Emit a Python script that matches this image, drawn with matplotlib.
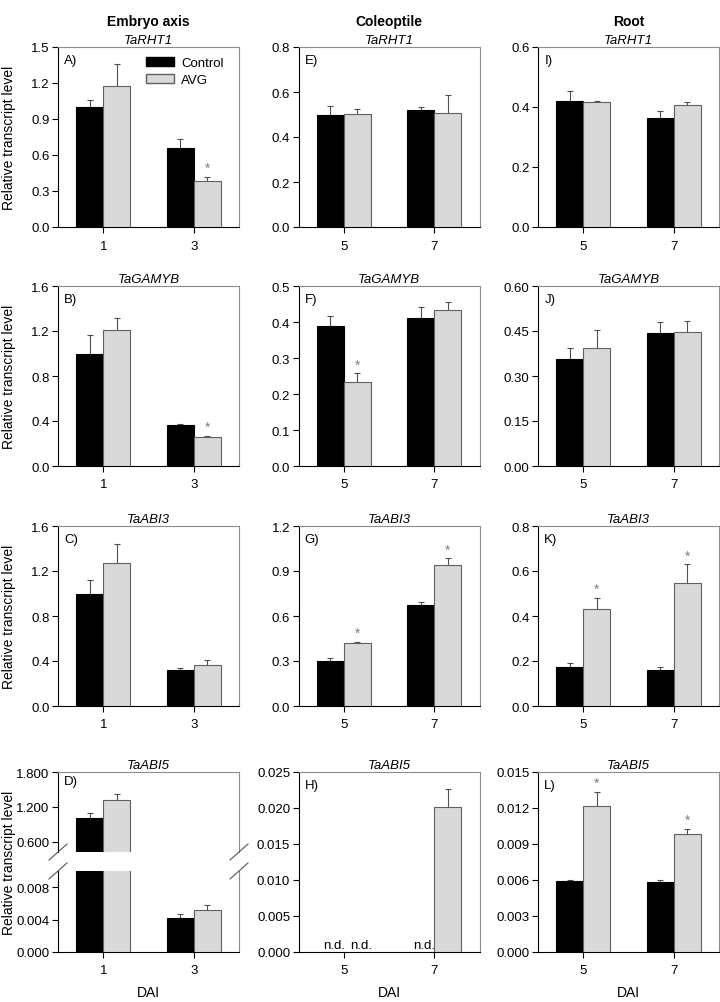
import numpy as np
import matplotlib
matplotlib.use('Agg')
import matplotlib.pyplot as plt
from matplotlib.patches import Patch
from matplotlib.lines import Line2D
from matplotlib.ticker import FormatStrFormatter

plt.rcParams['font.family'] = ['Liberation Sans', 'DejaVu Sans']
plt.rcParams['font.size'] = 9.5

# ---------------- DATA ----------------
columns = ['Embryo axis', 'Coleoptile', 'Root']
genes = ['TaRHT1', 'TaGAMYB', 'TaABI3', 'TaABI5']
letters = [['A)', 'B)', 'C)', 'D)'], ['E)', 'F)', 'G)', 'H)'], ['I)', 'J)', 'K)', 'L)']]
embryo_days = ['1', '3']
seedling_days = ['5', '7']
nan = np.nan

# embryo axis
embryo_ctrl = [[1.00, 0.656], [1.00, 0.364], [1.00, 0.317], [1.00, 0.0042]]
embryo_ctrl_err = [[0.060, 0.075], [0.164, 0.009], [0.124, 0.021], [0.095, 0.00045]]
embryo_avg = [[1.173, 0.385], [1.212, 0.258], [1.271, 0.361], [1.310, 0.00514]]
embryo_avg_err = [[0.183, 0.030], [0.106, 0.012], [0.169, 0.048], [0.109, 0.00062]]
embryo_sig = [[False, True], [False, True], [False, False], [False, False]]

# coleoptile (n.d. = not detected)
coleo_ctrl = [[0.498, 0.520], [0.389, 0.411], [0.299, 0.676], [nan, nan]]
coleo_ctrl_err = [[0.040, 0.012], [0.027, 0.030], [0.022, 0.018], [nan, nan]]
coleo_avg = [[0.502, 0.507], [0.234, 0.432], [0.417, 0.943], [nan, 0.0201]]
coleo_avg_err = [[0.024, 0.078], [0.023, 0.024], [0.011, 0.041], [nan, 0.0025]]
coleo_sig = [[False, False], [True, False], [True, True], [False, False]]

# root
root_ctrl = [[0.420, 0.362], [0.358, 0.442], [0.174, 0.158], [0.00588, 0.00583]]
root_ctrl_err = [[0.033, 0.024], [0.036, 0.039], [0.015, 0.017], [0.00012, 0.00019]]
root_avg = [[0.416, 0.406], [0.393, 0.448], [0.431, 0.546], [0.01216, 0.00981]]
root_avg_err = [[0.003, 0.010], [0.060, 0.035], [0.048, 0.083], [0.00117, 0.00045]]
root_sig = [[False, False], [False, False], [True, True], [True, True]]

# axis ranges per panel (top, step, format)
embryo_y = [(1.5, 0.3, '%.1f'), (1.6, 0.4, '%.1f'), (1.6, 0.4, '%.1f'), None]
coleo_y = [(0.8, 0.2, '%.1f'), (0.5, 0.1, '%.1f'), (1.2, 0.3, '%.1f'), (0.025, 0.005, '%.3f')]
root_y = [(0.6, 0.2, '%.1f'), (0.6, 0.15, '%.2f'), (0.8, 0.2, '%.1f'), (0.015, 0.003, '%.3f')]
# broken axis for embryo TaABI5
abi5_upper = (0.42, 1.8, [0.6, 1.2, 1.8])
abi5_lower = (0.0, 0.010, [0.0, 0.004, 0.008])

# ---------------- LAYOUT ----------------
W, H = 720, 1003
fig = plt.figure(figsize=(W / 100, H / 100), dpi=100)

col_left = [58, 298.5, 538]
row_top = [48, 287, 527, 773]
AW, AH = 181, 180

BLACK = 'black'
GREY = '#d9d9d9'
GREY_EDGE = '#606060'
FRAME = '#8c8c8c'
ERR = '#505050'
BW = 0.3


def rect(left, top, w, h):
    return [left / W, 1 - (top + h) / H, w / W, h / H]


def style_axes(ax, bottom=True, top=True):
    ax.spines['left'].set_color('black')
    ax.spines['bottom'].set_color('black')
    ax.spines['top'].set_color(FRAME)
    ax.spines['right'].set_color(FRAME)
    for s in ax.spines.values():
        s.set_linewidth(0.8)
    ax.spines['bottom'].set_visible(bottom)
    ax.spines['top'].set_visible(top)
    ax.tick_params(direction='out', length=4, width=0.8, labelsize=9.5, pad=2)
    ax.tick_params(axis='x', pad=5)
    ax.set_xlim(-0.5, 1.5)


def draw_bars(ax, ctrl, ctrl_err, avg, avg_err, sig):
    x = np.arange(len(ctrl))
    ax.bar(x - BW / 2, ctrl, BW, color=BLACK, edgecolor=BLACK, lw=0.8, zorder=3)
    ax.bar(x + BW / 2, avg, BW, color=GREY, edgecolor=GREY_EDGE, lw=0.8, zorder=3)
    for xs, m, e in [(x - BW / 2, ctrl, ctrl_err), (x + BW / 2, avg, avg_err)]:
        m = np.asarray(m, float)
        e = np.asarray(e, float)
        _, caps, _ = ax.errorbar(xs, m, yerr=[np.zeros_like(e), e], fmt='none',
                                 ecolor=ERR, elinewidth=0.8, capsize=2.5,
                                 capthick=0.8, zorder=2)
        caps[0].set_visible(False)
    for i, s in enumerate(sig):
        if s:
            ax.annotate('*', (x[i] + BW / 2, avg[i] + avg_err[i]),
                        xytext=(0, 1.5), textcoords='offset points',
                        ha='center', va='bottom', fontsize=10, color='#808080')


def panel_text(ax, letter, gene):
    ax.text(0.035, 0.96, letter, transform=ax.transAxes, ha='left', va='top', fontsize=9.5)
    ax.set_title(gene, fontstyle='italic', fontsize=9.5, pad=3)


def ylabel(top, h):
    fig.text(9 / W, 1 - (top + h / 2) / H, 'Relative transcript level',
             rotation=90, ha='center', va='center', fontsize=10)


def dai_label(left):
    fig.text((left + AW / 2) / W, 1 - 993 / H, 'DAI', ha='center', va='center', fontsize=10)


col_data = [
    (embryo_ctrl, embryo_ctrl_err, embryo_avg, embryo_avg_err, embryo_sig, embryo_y, embryo_days),
    (coleo_ctrl, coleo_ctrl_err, coleo_avg, coleo_avg_err, coleo_sig, coleo_y, seedling_days),
    (root_ctrl, root_ctrl_err, root_avg, root_avg_err, root_sig, root_y, seedling_days),
]

for c, (ctrl, ctrl_err, avg, avg_err, sig, ycfg, days) in enumerate(col_data):
    left = col_left[c]
    fig.text((left + AW / 2) / W, 1 - 22 / H, columns[c], ha='center', va='center',
             fontsize=10, fontweight='bold')
    dai_label(left)
    for r in range(4):
        if c == 0 and r == 3:
            # broken y axis
            up = fig.add_axes(rect(left, row_top[r], AW, 80))
            lo = fig.add_axes(rect(left, row_top[r] + 99, AW, 81))
            for ax in (up, lo):
                draw_bars(ax, ctrl[r], ctrl_err[r], avg[r], avg_err[r], sig[r])
            style_axes(up, bottom=False)
            style_axes(lo, top=False)
            up.set_ylim(abi5_upper[0], abi5_upper[1])
            up.set_yticks(abi5_upper[2])
            up.yaxis.set_major_formatter(FormatStrFormatter('%.3f'))
            up.set_xticks([])
            lo.set_ylim(abi5_lower[0], abi5_lower[1])
            lo.set_yticks(abi5_lower[2])
            lo.yaxis.set_major_formatter(FormatStrFormatter('%.3f'))
            lo.set_xticks(np.arange(2))
            lo.set_xticklabels(days)
            panel_text(up, letters[c][r], genes[r])
            ylabel(row_top[r], AH)
            # break marks
            for bx in (left, left + AW):
                for by in (row_top[r] + 80, row_top[r] + 99):
                    fig.add_artist(Line2D([(bx - 9) / W, (bx + 9) / W],
                                          [1 - (by + 8) / H, 1 - (by - 8) / H],
                                          color='#555555', lw=0.8))
            continue
        ax = fig.add_axes(rect(left, row_top[r], AW, AH))
        draw_bars(ax, ctrl[r], ctrl_err[r], avg[r], avg_err[r], sig[r])
        style_axes(ax)
        top, step, fmt = ycfg[r]
        ax.set_ylim(0, top)
        ax.set_yticks(np.arange(0, top + step / 2, step))
        ax.yaxis.set_major_formatter(FormatStrFormatter(fmt))
        ax.set_xticks(np.arange(2))
        ax.set_xticklabels(days)
        panel_text(ax, letters[c][r], genes[r])
        if c == 0:
            ylabel(row_top[r], AH)
        if r == 3:
            # not detected
            x = np.arange(2)
            for i in range(2):
                if np.isnan(ctrl[r][i]):
                    ax.text(x[i] - BW / 2 + 0.04, top * 0.008, 'n.d.', ha='center',
                            va='bottom', fontsize=9.5)
                if np.isnan(avg[r][i]):
                    ax.text(x[i] + BW / 2 + 0.04, top * 0.008, 'n.d.', ha='center',
                            va='bottom', fontsize=9.5)
        if c == 0 and r == 0:
            ax.legend(handles=[Patch(fc=BLACK, ec=BLACK), Patch(fc=GREY, ec=GREY_EDGE)],
                      labels=['Control', 'AVG'], loc='upper right',
                      bbox_to_anchor=(0.97, 1.0), frameon=False, fontsize=9.5,
                      handlelength=2.1, handleheight=0.7, handletextpad=0.55,
                      labelspacing=0.35, borderpad=0.25)

fig.savefig('out.png', dpi=100)
